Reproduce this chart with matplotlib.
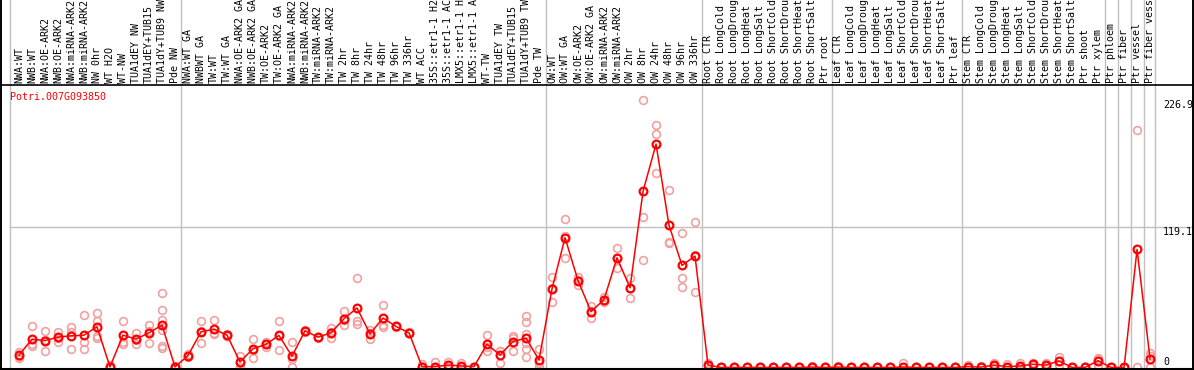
import matplotlib
matplotlib.use("Agg")
import matplotlib.pyplot as plt
from matplotlib.lines import Line2D
from matplotlib.transforms import blended_transform_factory

gene = "Potri.007G093850"

labels = [
    "NWA:WT", "NWB:WT", "NWA:OE-ARK2", "NWB:OE-ARK2", "NWA:miRNA-ARK2", "NWB:miRNA-ARK2",
    "NW 0hr", "WT H2O", "WT-NW", "TUA1dEY NW", "TUA1dEY+TUB15", "TUA1dY+TUB9 NW", "Pde NW",
    "NWA:WT GA", "NWBWT GA", "TW:WT", "TW:WT GA", "NWA:OE-ARK2 GA", "NWB:OE-ARK2 GA",
    "TW:OE-ARK2", "TW:OE-ARK2 GA", "NWA:miRNA-ARK2", "NWB:miRNA-ARK2", "TW:miRNA-ARK2",
    "TW:miRNA-ARK2", "TW 2hr", "TW 8hr", "TW 24hr", "TW 48hr", "TW 96hr", "TW 336hr",
    "WT ACC", "35S::etr1-1 H2", "35S::etr1-1 AC", "LMX5::etr1-1 H", "LMX5::etr1-1 A",
    "WT-TW", "TUA1dEY TW", "TUA1dEY+TUB15", "TUA1dY+TUB9 TW", "Pde TW",
    "OW:WT", "OW:WT GA", "OW:OE-ARK2", "OW:OE-ARK2 GA", "OW:miRNA-ARK2", "OW:miRNA-ARK2",
    "OW 2hr", "OW 8hr", "OW 24hr", "OW 48hr", "OW 96hr", "OW 336hr",
    "Root CTR", "Root LongCold", "Root LongDroug", "Root LongHeat", "Root LongSalt",
    "Root ShortCold", "Root ShortDrou", "Root ShortHeat", "Root ShortSalt", "Ptr root",
    "Leaf CTR", "Leaf LongCold", "Leaf LongDroug", "Leaf LongHeat", "Leaf LongSalt",
    "Leaf ShortCold", "Leaf ShortDrou", "Leaf ShortHeat", "Leaf ShortSalt", "Ptr leaf",
    "Stem CTR", "Stem LongCold", "Stem LongDroug", "Stem LongHeat", "Stem LongSalt",
    "Stem ShortCold", "Stem ShortDrou", "Stem ShortHeat", "Stem ShortSalt", "Ptr shoot",
    "Ptr xylem", "Ptr phloem", "Ptr fiber", "Ptr vessel", "Ptr fiber vess",
]

group_sizes = [13, 28, 12, 10, 10, 11, 1, 1, 1, 1]

means = [
    10.4, 24, 22.8, 25.7, 26.8, 27.4, 34.5, 0.5, 27.4, 24, 29.4, 35.9, 0.5,
    10, 30.2, 32.5, 27.4, 4.7, 15.8, 19.7, 27.1, 9.5, 31.1, 25.7, 29.4, 41.3, 50.4,
    28.5, 41.9, 34.8, 29.4, 0.7, 0.7, 2.1, 1.3, 0.7, 19.7, 10.6, 22, 24.8, 6.4,
    66.6, 110, 73.7, 47.3, 57.5, 93, 67.5, 149.2, 189.3, 120.5, 86.5, 94.4,
    2, 0, 0, 0, 0, 0, 0, 0, 0.3, 0,
    0.3, 0, 0, 0, 0, 0.3, 0, 0, 0, 0,
    0.7, 0.3, 2, 0.7, 1.3, 2.7, 2, 5.5, 0, 0, 5.8,
    0, 0, 100, 7.2,
]

reps = [
    [13.5, 7.8, 10], [35, 18, 20], [31, 14, 23], [30, 22, 25], [34, 16, 30],
    [44.7, 22, 15.5], [46, 39, 27, 25], [2, 0, 0], [39.6, 22, 20], [29.6, 20, 23],
    [36, 21, 31], [63.2, 48.7, 39.9, 32, 18.3, 16.4], [0, 1, 0],
    [9, 11, 10], [39, 21, 31], [40.5, 28, 29], [27, 28, 27], [10, 0, 4],
    [24.3, 8.4, 15], [22, 19.7, 17.7], [39.6, 15.2, 26.5], [21.5, 0, 7], [31, 32, 30],
    [26, 25, 26], [33.4, 25, 30], [47.5, 36, 40.5], [76, 39, 37], [32, 24, 29.5],
    [53.2, 34.2, 36.2], [34, 35, 35.5], [29, 30, 29], [3, 0, 0], [5, 0, 0],
    [4.5, 1, 1], [3.5, 0, 0.5], [0.7, 0.7, 0.7], [27.4, 14, 17.5], [14.3, 3.6, 14],
    [27, 14, 25], [43.9, 38.2, 28.3, 20.6, 15.5, 9.2], [15.5, 0, 3.7],
    [76.8, 55.5, 67.5], [126, 93, 111], [76.5, 70.3, 74.3], [52.4, 41.6, 48],
    [59.8, 55.2, 57.5], [101.5, 84.5, 93], [76, 59, 67.5], [226.9, 127.9, 91.3],
    [205.7, 198, 164.6], [150.3, 106.3, 105.2], [113.7, 76, 68.3], [123.7, 64.3, 95],
    [4, 1, 1], [0, 0, 0], [0, 0, 0], [0, 0, 0], [0.7, 0, 0], [0, 0, 0], [0, 0, 0],
    [0, 0, 0], [1.3, 0, 0], [0, 0, 0],
    [1.3, 0, 0], [0, 0, 0], [0, 0, 0], [0, 0, 0], [0, 0, 0], [3.6, 0, 0], [0, 0, 0],
    [0, 0, 0], [0, 0, 0], [0, 0, 0],
    [2, 0, 0], [1.3, 0, 0], [3.6, 1, 1], [3, 0, 0], [3.6, 0, 0], [3.6, 2, 2],
    [3.6, 1, 1], [8.7, 2, 5.5], [0, 0, 0], [0, 0, 0], [7.2, 2, 8],
    [0, 0, 0], [0, 0, 0], [201, 0], [12, 0, 9.6],
]

W, H = 1194, 370
fig = plt.figure(figsize=(W / 100, H / 100), dpi=100)
fig.patch.set_facecolor("white")

# plot box in pixels: x 10..1155, y 85..369 from the top
ax = fig.add_axes([10 / W, 1 / H, 1145 / W, 284 / H])
ax.set_xlim(-0.69, 87.38)
ax.set_ylim(-1.3, 239.4)
for s in ax.spines.values():
    s.set_visible(False)
ax.set_xticks([])
ax.set_yticks([])
ax.patch.set_alpha(0)

mono = "DejaVu Sans Mono"
fs = 7.2
grey = "#c0c0c0"
xs = list(range(len(labels)))

# group separators, running up through the label band
bounds = [-0.69]
n = 0
for g in group_sizes[:-1]:
    n += g
    bounds.append(n - 0.5)
bounds.append(87.38)
top_y = H / 284
for b in bounds:
    ax.plot([b, b], [0, top_y], color=grey, lw=1, clip_on=False,
            transform=blended_transform_factory(ax.transData, ax.transAxes), zorder=0)

# horizontal grid at 119.1, extends into the right label column
ax.axhline(119.1, xmin=0, xmax=(W - 10) / 1145, color=grey, lw=1, clip_on=False, zorder=0)

# replicates
for x, r in zip(xs, reps):
    ax.plot([x] * len(r), r, "o", ms=5.6, mfc="none", mec="#f2a0a0", mew=1.2,
            clip_on=False, zorder=2)

# means
ax.plot(xs, means, "-", color="#ff0000", lw=1.1, clip_on=False, zorder=3)
ax.plot(xs, means, "o", ms=5.6, mfc="none", mec="#ff0000", mew=1.6, clip_on=False, zorder=4)

# column labels above the plot
lab_tr = blended_transform_factory(ax.transData, ax.transAxes)
for x, lab in zip(xs, labels):
    ax.text(x, 1 + 2 / 284, lab, transform=lab_tr, rotation=90, ha="center", va="bottom",
            family=mono, fontsize=fs, color="black")

# value labels on the right
rt = blended_transform_factory(ax.transAxes, ax.transData)
xr = (1163 - 10) / 1145
ax.text(xr, 226.9, "226.9", transform=rt, ha="left", va="top", family=mono, fontsize=fs)
ax.text(xr, 119.1, "119.1", transform=rt, ha="left", va="top", family=mono, fontsize=fs)
ax.text(xr, 0, "0", transform=rt, ha="left", va="bottom", family=mono, fontsize=fs)

fig.text(10 / W, (H - 97) / H, gene, color="red", family=mono, fontsize=fs,
         ha="left", va="center")

# frame lines of the whole picture
fig.add_artist(Line2D([0, 1], [(H - 85) / H] * 2, color="black", lw=1.2))
fig.add_artist(Line2D([0, 1], [1 / H] * 2, color="black", lw=1.5))
fig.add_artist(Line2D([0.7 / W] * 2, [0, 1], color="black", lw=1.4))
fig.add_artist(Line2D([(W - 0.7) / W] * 2, [0, 1], color="black", lw=1.4))

fig.savefig("out.png", dpi=100)
